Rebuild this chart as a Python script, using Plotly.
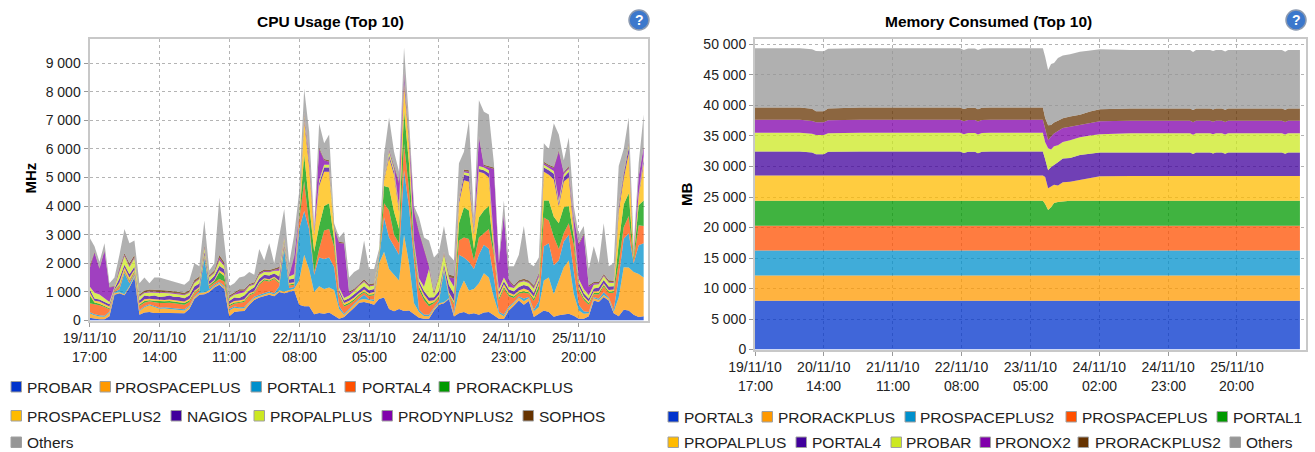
import plotly.graph_objects as go

W, H = 1315, 452

# ---------- CPU usage (MHz), samples every 1.5 h from 19/11/10 17:00 ----------
CPU_NAMES = ["PROBAR", "PROSPACEPLUS", "PORTAL1", "PORTAL4", "PRORACKPLUS", "PROSPACEPLUS2",
             "NAGIOS", "PROPALPLUS", "PRODYNPLUS2", "SOPHOS", "Others"]
PROBAR = [100,60,40,40,150,900,950,880,1150,1500, 200,280,300,260,250,260,260,260,250,250,
          400,750,900,920,1000,1150,1250,1100,150,300, 320,330,550,720,800,850,900,850,1000,950,
          1000,1050,550,500,500,220,260,240,280,170, 60,120,300,450,620,650,600,550,750,800,
          400,320,400,330,350,220,100,60,60,350, 550,600,750,140,250,300,220,250,200,280,
          300,180,60,50,350,520,700,550,680,120, 250,350,300,130,180,200,240,170,60,60,
          150,700,650,820,700,250,150,380,350,200, 120,150]
PROSPACEPLUS = [150,120,100,90,120,60,40,40,50,60, 120,180,230,200,160,160,150,130,120,100,
          80,60,60,60,60,60,60,50,200,150, 100,100,80,70,60,60,70,60,50,60,
          60,60,850,1800,1280,780,940,860,870,900, 340,70,70,80,100,100,100,120,1250,1600,
          1400,1280,1000,2670,1650,380,200,100,90,60, 50,40,30,80,750,1100,830,850,1100,1370,
          1200,620,190,100,100,80,100,120,100,200, 220,1050,1200,800,1220,1660,1860,760,290,180,
          100,80,70,70,70,60,650,1480,1500,1500, 1510,1350]
PORTAL1 = [50,40,40,40,40,40,100,750,100,60, 40,40,40,40,40,40,40,40,40,40,
          40,40,50,1200,50,40,40,60,50,40, 40,40,40,40,40,40,40,40,150,1500,
          80,60,1800,1530,1400,600,1000,1050,1050,800, 120,50,50,40,40,150,40,60,100,1200,
          1100,1000,900,2250,1960,1500,80,50,50,40, 80,1100,60,40,1300,800,1000,700,1000,1000,
          1000,700,60,60,50,40,40,100,40,60, 200,1200,1200,1000,700,900,900,800,200,80,
          50,40,40,100,40,60,700,1000,1200,300, 1000,1200]
PORTAL4 = [300,350,350,300,80,30,100,50,80,60, 150,120,100,140,160,150,170,170,170,160,
          130,100,80,50,80,80,100,150,100,100, 150,180,200,120,350,450,350,500,100,60,
          80,80,300,1040,200,100,300,1000,1000,700, 350,250,150,120,100,80,120,150,80,500,
          950,400,400,930,640,300,700,500,300,150, 100,40,50,300,500,700,800,300,600,400,
          700,800,400,900,350,150,100,200,120,300, 400,1000,800,1000,400,300,400,900,500,400,
          250,100,150,200,150,600,500,400,600,100, 700,600]
PRORACKPLUS = [300,60,60,50,40,20,40,30,40,40, 40,60,40,50,60,60,60,60,60,60,
          50,40,40,30,40,50,250,200,40,40, 40,40,40,40,40,40,40,40,40,30,
          40,40,100,930,700,700,800,850,900,250, 60,50,50,50,50,40,40,50,50,600,
          800,800,500,1170,880,200,100,100,80,50, 50,30,40,50,600,1060,1000,400,700,800,
          800,200,80,60,60,50,50,50,50,80, 150,600,700,700,900,900,600,300,80,60,
          50,40,50,50,50,50,700,800,800,100, 700,900]
PROSPACEPLUS2 = [100,60,70,60,60,20,100,100,80,60, 50,60,50,50,50,50,50,50,50,50,
          50,50,40,50,40,40,60,80,50,50, 50,50,40,40,50,40,40,40,50,50,
          50,50,50,1170,1300,600,1400,1200,1100,200, 60,70,70,60,50,60,50,70,50,200,
          1040,1300,600,930,700,100,100,100,100,60, 70,60,50,70,700,940,1000,500,1600,1300,
          1000,100,100,100,70,60,60,100,60,80, 100,1000,900,1300,600,900,1000,200,80,70,
          60,60,60,60,60,60,1100,900,1400,100, 300,1300]
NAGIOS = [100,80,70,70,80,50,150,100,120,100, 100,130,90,130,100,120,140,110,130,120,
          120,150,120,100,110,140,150,150,90,120, 90,130,100,130,120,120,130,110,150,100,
          120,130,60,100,150,50,100,150,150,80, 80,90,90,120,100,120,110,100,40,50,
          100,100,100,200,150,50,100,120,120,100, 130,100,250,250,100,200,200,100,100,100,
          150,100,100,100,100,120,120,120,140,120, 100,150,150,200,100,150,200,150,120,100,
          100,100,130,120,120,120,150,150,200,40, 50,150]
PROPALPLUS = [100,200,180,130,80,50,250,300,250,300, 130,90,130,110,140,120,80,120,90,100,
          100,120,150,120,120,100,200,120,110,100, 150,120,150,100,130,100,120,100,200,120,
          110,150,50,100,100,50,100,100,100,80, 80,90,90,100,150,150,130,120,30,50,
          120,100,100,50,100,50,100,150,1000,100, 500,350,250,250,80,80,100,100,100,100,
          100,100,100,130,100,120,150,130,120,150, 100,100,100,100,100,100,100,100,120,150,
          120,130,120,130,130,110,100,50,100,40, 50,100]
PRODYNPLUS2 = [600,1400,900,1650,500,20,50,40,50,30, 30,30,30,30,30,30,30,30,30,30,
          30,40,30,30,30,30,80,50,30,30, 100,50,30,30,40,30,30,30,80,30,
          30,600,20,30,150,50,1100,150,100,50, 1560,1900,100,40,30,30,30,30,20,30,
          50,60,800,150,50,1000,1600,1300,80,50, 30,30,30,300,50,50,50,50,1000,50,
          100,2500,900,2200,200,40,30,30,30,50, 100,50,50,100,1700,50,50,200,1200,1900,
          300,50,30,30,30,30,50,50,50,40, 600,300]
SOPHOS = [100,30,30,30,30,20,70,60,80,80, 60,60,70,70,70,70,60,60,60,60,
          60,70,70,60,50,60,100,80,50,50, 50,50,50,50,60,50,50,50,60,50,
          50,50,20,60,50,20,50,50,50,30, 40,40,40,50,50,60,50,50,20,20,
          40,40,50,70,100,60,50,50,50,50, 50,50,100,80,30,50,50,50,50,50,
          50,50,50,40,50,50,60,60,60,60, 50,50,50,50,50,30,50,50,50,40,
          50,50,50,50,60,50,50,40,50,20, 20,50]
CPU_OTHERS = [1000,200,210,240,120,290,450,850,700,510, 380,450,220,420,440,390,360,320,300,280,
          340,580,360,880,170,250,2010,760,330,320, 410,460,420,260,810,320,930,180,1020,950,
          380,730,700,840,770,130,850,550,900,140, 150,370,490,590,510,1360,530,500,110,750,
          1100,500,350,800,420,140,470,370,870,1190, 790,900,690,540,1140,620,1750,300,1250,1850,
          1800,150,160,460,470,670,890,1840,600,680, 530,650,550,1520,550,410,1000,370,300,260,
          570,1250,650,1770,490,610,1250,750,850,160, 450,1100]
CPU_SERIES = [PROBAR, PROSPACEPLUS, PORTAL1, PORTAL4, PRORACKPLUS, PROSPACEPLUS2,
              NAGIOS, PROPALPLUS, PRODYNPLUS2, SOPHOS, CPU_OTHERS]
CPU_HOURS = [i * 1.5 for i in range(len(PROBAR))]

# ---------- Memory consumed (MB) ----------
MEM_NAMES = ["PORTAL3", "PRORACKPLUS", "PROSPACEPLUS2", "PROSPACEPLUS", "PORTAL1",
             "PROPALPLUS", "PORTAL4", "PROBAR", "PRONOX2", "PRORACKPLUS2", "Others"]
MEM_HOURS = [0,7.6,13.7,17.4,18.6,21.0,22.3,32,44.2,62.5,63.7,65,67.1,68,69.2,71.7,83.9,87.8,88.5,89.4,
             90.3,91.2,92.4,93.9,96.1,99.1,102.2,105.2,114.4,132.7,133.6,134.5,138.8,139.7,140.6,
             142.4,143.4,144.3,154,160.7,161.7,162.6,166.2]
M_PORTAL3 = [7980] * 43
M_PRORACKPLUS = [4150] * 43
M_PROSPACEPLUS2 = [4100] * 43
M_PROSPACEPLUS = [4040] * 43
M_PORTAL1 = [4100]*18 + [3600,2580,3030,3730,3930,4030] + [4100]*19
M_PROPALPLUS = [4150]*18 + [4400,3590,3400,3000,2700,3100,3130,3430,3830,4030] + [4080]*15
M_PORTAL4 = [3940,3940,3940,3780,3480,3480,3880,3940,3940,3940,3700,3900,3900,3650,3900,3940,3940,3940,
             2900,2960,3200,3300,3800,3900,3900,4100,3900,3900,3850,3850,3600,3850,3850,3700,3850,3850,
             3650,3850,3850,3850,3650,3850,3850]
M_PROBAR = [3060,3060,3060,3050,3150,3150,3050] + [3060]*11 + [2800,3600,2900,3000,2800,2700,2900,2900,3000,3000] + [3150]*15
M_PRONOX2 = [2130,2130,2130,2100,2100,2100,2150] + [2130]*11 + [2200,1300,2100,2100,2300,2300,2200,2000,2000,2100] + [2050]*15
M_PRORACKPLUS2 = [2020,2020,2020,2000,1800,1800,1900] + [2020]*11 + [1800,2480,1900,1800,1700,1600,1700,1700,1900,2000] + [2000]*15
M_OTHERS = [9730,9730,9730,9750,9900,9850,9800,9730,9730,9730,9660,9730,9730,9700,9730,9730,9730,9730,
            10000,9020,10000,9750,10300,10300,10200,10300,10000,9800,9600,9600,9500,9600,9600,9600,9600,9600,
            9550,9600,9600,9600,9500,9600,9600]
MEM_SERIES = [M_PORTAL3, M_PRORACKPLUS, M_PROSPACEPLUS2, M_PROSPACEPLUS, M_PORTAL1, M_PROPALPLUS,
              M_PORTAL4, M_PROBAR, M_PRONOX2, M_PRORACKPLUS2, M_OTHERS]

# ---------- Axis labels ----------
X_TICK_HOURS = [0, 21, 42, 63, 84, 105, 126, 147]
X_DATES = ["19/11/10", "20/11/10", "21/11/10", "22/11/10", "23/11/10", "24/11/10", "24/11/10", "25/11/10"]
X_TIMES = ["17:00", "14:00", "11:00", "08:00", "05:00", "02:00", "23:00", "20:00"]
CPU_YTICKS = [0, 1000, 2000, 3000, 4000, 5000, 6000, 7000, 8000, 9000]
CPU_YLABELS = ["0", "1 000", "2 000", "3 000", "4 000", "5 000", "6 000", "7 000", "8 000", "9 000"]
MEM_YTICKS = [0, 5000, 10000, 15000, 20000, 25000, 30000, 35000, 40000, 45000, 50000]
MEM_YLABELS = ["0", "5 000", "10 000", "15 000", "20 000", "25 000", "30 000", "35 000", "40 000", "45 000", "50 000"]

COLORS = ["#0033CC", "#FF9900", "#0090CC", "#FF5000", "#009900", "#FFBB00",
          "#40009C", "#CCE822", "#8000AB", "#663300", "#969696"]
ALPHA = 0.75


def rgba(c, a):
    return f"rgba({int(c[1:3],16)},{int(c[3:5],16)},{int(c[5:7],16)},{a})"


def fx(p):
    return p / W


def fy(p):
    return 1 - p / H


fig = go.Figure()
for name, vals, col in zip(CPU_NAMES, CPU_SERIES, COLORS):
    assert len(vals) == len(CPU_HOURS), name
    fig.add_trace(go.Scatter(x=CPU_HOURS, y=vals, name=name, mode="lines", stackgroup="cpu",
                             line=dict(width=0, color=col), fillcolor=rgba(col, ALPHA),
                             xaxis="x", yaxis="y", showlegend=False))
for name, vals, col in zip(MEM_NAMES, MEM_SERIES, COLORS):
    assert len(vals) == len(MEM_HOURS), name
    fig.add_trace(go.Scatter(x=MEM_HOURS, y=vals, name=name, mode="lines", stackgroup="mem",
                             line=dict(width=0, color=col), fillcolor=rgba(col, ALPHA),
                             xaxis="x2", yaxis="y2", showlegend=False))

FONT = "Liberation Sans, Arial, sans-serif"
axis_common = dict(showgrid=True, griddash="3px,3px", gridcolor="#b4b4b4", gridwidth=1, automargin=False,
                   zeroline=False, showline=True, mirror=True, linecolor="#c8c8c8", linewidth=2,
                   ticks="outside", ticklen=4, tickcolor="#999999",
                   tickfont=dict(family=FONT, size=14, color="#222222"))

panels = [
    dict(x="xaxis", y="yaxis", l=89.5, r=648, t=39, b=320.5, xr=167.8, yr=9843,
         yt=CPU_YTICKS, yl=CPU_YLABELS),
    dict(x="xaxis2", y="yaxis2", l=755, r=1305.5, t=39, b=349.5, xr=167.9, yr=50900,
         yt=MEM_YTICKS, yl=MEM_YLABELS),
]
layout = {}
annotations = []
shapes = []
for pn in panels:
    layout[pn["x"]] = dict(range=[0, pn["xr"]], domain=[fx(pn["l"]), fx(pn["r"])],
                           tickmode="array", tickvals=X_TICK_HOURS, ticktext=X_DATES,
                           anchor=pn["y"].replace("axis", ""), **axis_common)
    layout[pn["y"]] = dict(range=[0, pn["yr"]], domain=[fy(pn["b"]), fy(pn["t"])],
                           tickmode="array", tickvals=pn["yt"], ticktext=pn["yl"],
                           anchor=pn["x"].replace("axis", ""), **axis_common)
    # second line of the time labels
    for h, t in zip(X_TICK_HOURS, X_TIMES):
        annotations.append(dict(x=h, xref=pn["x"].replace("axis", ""), y=fy(pn["b"] + 36.5), yref="paper",
                                text=t, showarrow=False, xanchor="center", yanchor="middle",
                                font=dict(family=FONT, size=14, color="#222222")))


def text(x, y, s, size=15, color="#222222", anchor="left", bold=False, angle=0):
    annotations.append(dict(x=fx(x), y=fy(y), xref="paper", yref="paper", text=f"<b>{s}</b>" if bold else s,
                            showarrow=False, xanchor=anchor, yanchor="middle", textangle=angle,
                            borderpad=0, font=dict(family=FONT, size=size, color=color)))


text(331, 21, "CPU Usage (Top 10)", size=15.5, color="#000000", anchor="center", bold=True)
text(989, 21, "Memory Consumed (Top 10)", size=15.5, color="#000000", anchor="center", bold=True)
text(29.5, 178, "MHz", size=15, color="#000000", anchor="center", bold=True, angle=-90)
text(687, 195, "MB", size=15, color="#000000", anchor="center", bold=True, angle=-90)

# help icons
for cx in (639, 1296):
    shapes.append(dict(type="circle", xref="paper", yref="paper", x0=fx(cx - 10), x1=fx(cx + 10),
                       y0=fy(30), y1=fy(10), fillcolor="#3C78CC", line=dict(color="#8C9AB0", width=1.5)))
    text(cx, 20, "?", size=14, color="#FFFFFF", anchor="center", bold=True)

# legends: (swatch left, text left, row centre y, label index)
LEFT_LEGEND = [(11, 26, 387, 0), (100, 114, 387, 1), (251, 266, 387, 2), (345, 361, 387, 3), (439, 455, 387, 4),
               (11, 26, 416, 5), (171, 186, 416, 6), (254, 269, 416, 7), (382, 397, 416, 8), (523, 538, 416, 9),
               (11, 26, 442.5, 10)]
RIGHT_LEGEND = [(668, 683, 417, 0), (762, 777, 417, 1), (905, 919, 417, 2), (1066, 1081, 417, 3), (1217, 1232, 417, 4),
                (668, 683, 442.5, 5), (796, 811, 442.5, 6), (891, 905, 442.5, 7), (980, 994, 442.5, 8), (1078, 1094, 442.5, 9),
                (1230, 1245, 442.5, 10)]
for legend, names in ((LEFT_LEGEND, CPU_NAMES), (RIGHT_LEGEND, MEM_NAMES)):
    for sx, tx, ry, idx in legend:
        shapes.append(dict(type="rect", xref="paper", yref="paper", x0=fx(sx), x1=fx(sx + 10.5),
                           y0=fy(ry + 5), y1=fy(ry - 5.5), fillcolor=COLORS[idx],
                           line=dict(color="#A0A0A0", width=1)))
        text(tx, ry, names[idx], size=15.5, color="#222222")

fig.update_layout(width=W, height=H, autosize=False, margin=dict(l=0, r=0, t=0, b=0),
                  paper_bgcolor="white", plot_bgcolor="white", showlegend=False,
                  annotations=annotations, shapes=shapes, **layout)
fig.write_html("out.html", config=dict(displayModeBar=False),
               post_script="document.body.style.margin='0';document.body.style.overflow='hidden';")
